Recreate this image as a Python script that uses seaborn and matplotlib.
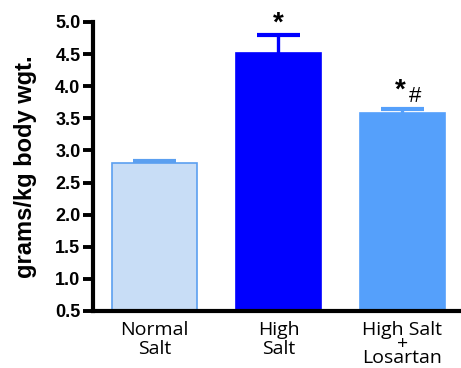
import matplotlib
matplotlib.use("Agg")
import matplotlib.pyplot as plt
import seaborn as sns
import pandas as pd

groups = ["Normal\nSalt", "High\nSalt", "High Salt\n+\nLosartan"]
means = [2.80, 4.51, 3.58]
sem = [0.04, 0.28, 0.06]
fills = ["#c8ddf6", "#0000ff", "#55a0fb"]
edges = ["#5b9ff0", "#0000ff", "#55a0fb"]
yticks = [0.5, 1.0, 1.5, 2.0, 2.5, 3.0, 3.5, 4.0, 4.5, 5.0]

sns.set_style("ticks")
plt.rcParams["font.family"] = ["Liberation Sans", "DejaVu Sans"]
for key in ["text.color", "axes.labelcolor", "xtick.color", "ytick.color",
            "axes.edgecolor"]:
    plt.rcParams[key] = "black"

df = pd.DataFrame({"group": groups, "value": means})

fig = plt.figure(figsize=(4.61, 3.68), dpi=100)
ax = fig.add_axes([0.2017, 0.1549, 0.7983, 0.7854])

sns.barplot(data=df, x="group", y="value", hue="group", palette=fills,
            legend=False, width=0.68, ax=ax, errorbar=None, saturation=1)
for patch, ec in zip(ax.patches, edges):
    patch.set_edgecolor(ec)
    patch.set_linewidth(1.2)
    patch.set_zorder(2)

# upward-only SEM whiskers with caps, drawn behind the bars
cap = 0.17
for i, (m, e) in enumerate(zip(means, sem)):
    ax.vlines(i, m - 0.1, m + e, color=edges[i], lw=2.4, zorder=1)
    ax.hlines(m + e, i - cap, i + cap, color=edges[i], lw=3, zorder=1)

ax.set_ylim(0.5, 5.0)
ax.set_xlim(-0.496, 2.472)
ax.set_yticks(yticks)
ax.set_yticklabels([f"{t:.1f}" for t in yticks], fontweight="bold", fontsize=13)
ax.set_xticks(range(len(groups)))
ax.set_xticklabels(groups, fontsize=14, family="Open Sans")
for lbl, ls in zip(ax.get_xticklabels(), [1.1, 1.1, 0.72]):
    lbl.set_linespacing(ls)
ax.tick_params(axis="y", direction="out", length=7, width=2.8, pad=2)
ax.tick_params(axis="x", length=0, pad=7)
ax.set_xlabel("")
ax.set_ylabel("grams/kg body wgt.", fontsize=17, fontweight="bold", labelpad=13)
for side in ["left", "bottom"]:
    ax.spines[side].set_linewidth(3)
sns.despine(ax=ax)

# significance markers
ax.text(1, means[1] + sem[1] - 0.02, "*", ha="center", va="bottom",
        fontsize=20, fontweight="bold")
ax.text(1.98, means[2] + sem[2] + 0.09, "*", ha="center", va="bottom",
        fontsize=20, fontweight="bold")
ax.text(2.1, means[2] + sem[2] + 0.03, "#", ha="center", va="bottom",
        fontsize=16)

fig.savefig("out.png", dpi=100)
